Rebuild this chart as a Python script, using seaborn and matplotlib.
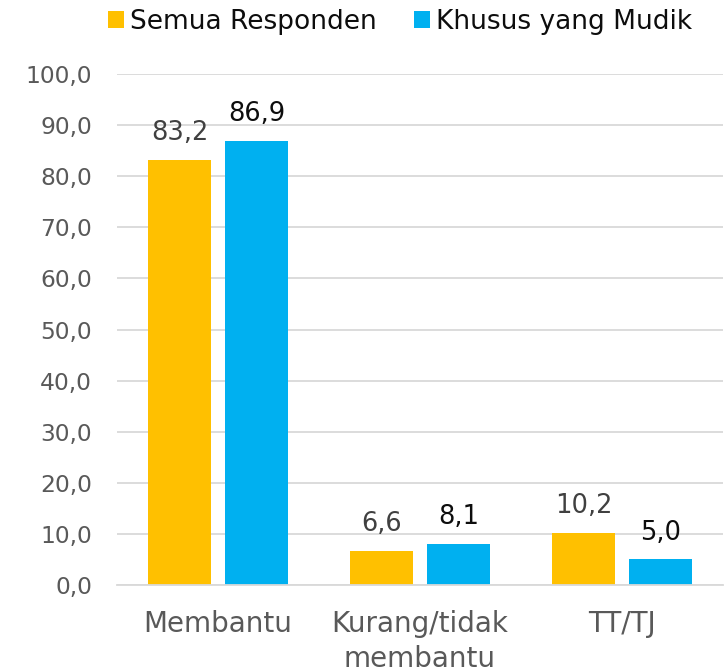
import matplotlib
matplotlib.use("Agg")
import matplotlib.pyplot as plt
import seaborn as sns
import pandas as pd
from matplotlib.patches import Patch

categories = ["Membantu", "Kurang/tidak\nmembantu", "TT/TJ"]
series_names = ["Semua Responden", "Khusus yang Mudik"]
semua = [83.2, 6.6, 10.2]
mudik = [86.9, 8.1, 5.0]
yticks = [0, 10, 20, 30, 40, 50, 60, 70, 80, 90, 100]

colors = ["#FFC000", "#00B0F0"]
label_colors = ["#404040", "#0d0d0d"]

df = pd.DataFrame({
    "Kategori": categories * 2,
    "Seri": [series_names[0]] * 3 + [series_names[1]] * 3,
    "Nilai": semua + mudik,
})

sns.set_theme(style="white")
plt.rcParams["font.family"] = ["DejaVu Sans"]

fig = plt.figure(figsize=(7.26, 6.72), dpi=100)
ax = fig.add_axes([117/726, 1 - 585/672, (723 - 117)/726, (585 - 74)/672])

sns.barplot(data=df, x="Kategori", y="Nilai", hue="Seri", order=categories,
            hue_order=series_names, palette=colors, width=0.76, saturation=1,
            legend=False, ax=ax)

bar_w = 0.31
for cont, lc in zip(ax.containers, label_colors):
    for p in cont.patches:
        c = p.get_x() + p.get_width() / 2
        p.set_width(bar_w)
        p.set_x(c - bar_w / 2)
        p.set_linewidth(0)
    ax.bar_label(cont, labels=[f"{v:.1f}".replace(".", ",") for v in cont.datavalues],
                 padding=10, fontsize=18.5, color=lc)

ax.set_ylim(0, 100)
ax.set_xlim(-0.5, 2.5)
ax.set_yticks(yticks)
ax.set_yticklabels([f"{v:.1f}".replace(".", ",") for v in yticks])
ax.yaxis.grid(True, color="#D9D9D9", linewidth=1.3)
ax.set_axisbelow(True)
for s in ["left", "right", "top"]:
    ax.spines[s].set_visible(False)
ax.spines["bottom"].set_color("#D9D9D9")
ax.spines["bottom"].set_linewidth(1.3)
ax.tick_params(axis="y", length=0, pad=18, labelsize=16.8, labelcolor="#595959")
ax.tick_params(axis="x", length=0, pad=18, labelsize=20, labelcolor="#595959")
ax.set_xlabel("")
ax.set_ylabel("")
for t in ax.get_xticklabels():
    t.set_linespacing(1.3)

handles = [Patch(facecolor=c, edgecolor="none") for c in colors]
fig.legend(handles, series_names, loc="upper center", bbox_to_anchor=(0.551, 1.022),
           ncol=2, frameon=False, fontsize=19, handlelength=0.6, handleheight=0.6,
           handletextpad=0.25, columnspacing=1.4, labelcolor="#0d0d0d")

fig.savefig("out.png", dpi=100)
